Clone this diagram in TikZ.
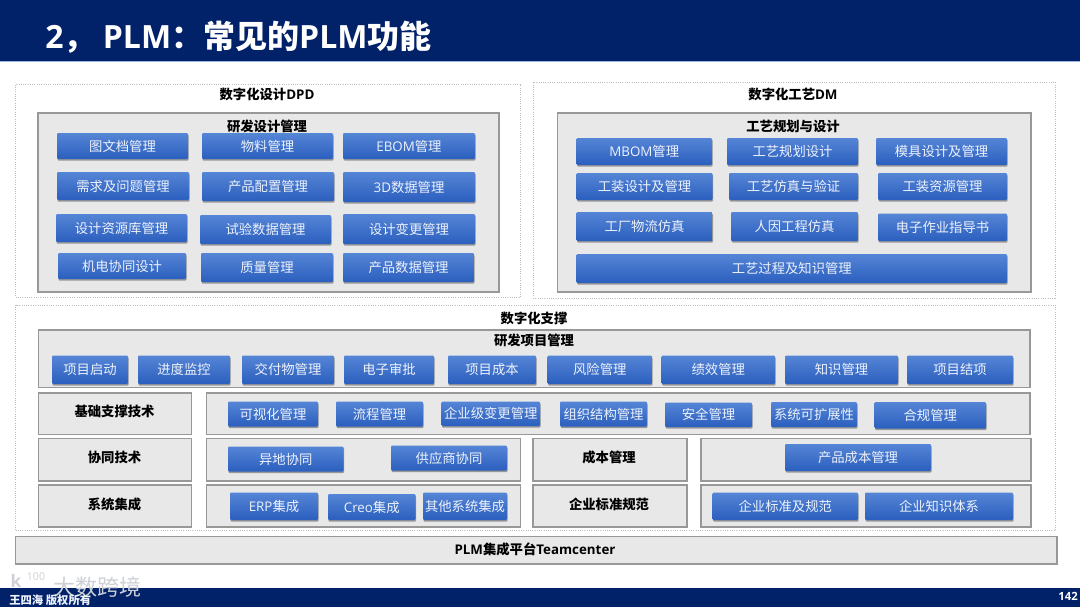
\documentclass[tikz,border=0pt]{standalone}
\usepackage{fontspec}
\setmainfont{Noto Sans CJK SC}
\newfontfamily\lat{Open Sans}
\usetikzlibrary{shadows}
\definecolor{navy}{HTML}{012169}
\definecolor{btop}{HTML}{5585D6}
\definecolor{bbot}{HTML}{2B5FBE}
\definecolor{btxt}{HTML}{EDF2FB}
\definecolor{panel}{HTML}{E8E8E8}
\definecolor{pline}{HTML}{989898}
\definecolor{oline}{HTML}{BDBDBD}
\definecolor{wmark}{HTML}{CDD1D7}
\tikzset{
  btn/.style={rectangle,inner sep=0pt,top color=btop,bottom color=bbot,text=btxt,rounded corners=0.8pt,
    drop shadow={shadow xshift=0.4pt,shadow yshift=-1.2pt,opacity=.35,fill=black},font=\fontsize{10}{12}\selectfont},
  outerbox/.style={rectangle,inner sep=0pt,draw=oline,densely dotted,line width=.7pt,fill=white},
  innerbox/.style={rectangle,inner sep=0pt,draw=pline,line width=1.1pt,fill=panel},
  ttl/.style={inner sep=0pt,text=black,font=\fontsize{10}{12}\selectfont\bfseries},
  sub/.style={inner sep=0pt,text=black,font=\fontsize{10}{12}\selectfont\bfseries},
}
% name, x0, y0, x1, y1, style, text
\newcommand\placebox[7]{%
  \pgfmathsetlengthmacro\bw{(#4-#2)*0.75pt}%
  \pgfmathsetlengthmacro\bh{(#5-#3)*0.75pt}%
  \node[#6,minimum width=\bw,minimum height=\bh] (#1) at ({(#2+#4)/2},{(#3+#5)/2}) {#7};%
}
\begin{document}
\begin{tikzpicture}[x=0.75pt,y=-0.75pt]
\useasboundingbox (0,0) rectangle (1080,607);
\fill[white] (0,0) rectangle (1080,607);
% header and footer
\placebox{header}{0}{0}{1080}{61}{rectangle,inner sep=0pt,fill=navy}{}
\draw[color=btop!60,line width=.6pt] (header.south west) -- (header.south east);
\node[anchor=west,inner sep=0pt,text=white,font=\fontsize{24}{27}\selectfont\bfseries] (title) at (45,37) {{\lat 2}， {\lat PLM}：常见的{\lat PLM}功能};
\placebox{footer}{0}{588}{1080}{607}{rectangle,inner sep=0pt,fill=navy}{}
\node[anchor=east,inner sep=0pt,text=white,font=\fontsize{8.5}{10}\selectfont\bfseries\lat] (page) at (1078,596) {142};
\node[anchor=west,inner sep=0pt,text=wmark,font=\fontsize{16.5}{20}\selectfont] (wm) at (53,587) {大数跨境};
\node[anchor=west,inner sep=0pt,text=btxt,font=\fontsize{8.5}{10}\selectfont\bfseries] (owner) at (9,600) {王四海 版权所有};
\node[inner sep=0pt,text=wmark,font=\fontsize{13}{15}\selectfont\bfseries\lat] (wmk) at (16,581) {k};
\node[inner sep=0pt,text=wmark,font=\fontsize{8}{10}\selectfont\lat] (wma) at (36,577) {100};
% digital design
\placebox{dpd}{15.5}{84}{520.5}{297.5}{outerbox}{}
\node[ttl] (dpdt) at (267,94) {数字化设计{\lat DPD}};
\placebox{rd}{38}{113}{499}{292}{innerbox}{}
\node[sub] (rdt) at (267,126) {研发设计管理};
\placebox{a1}{57}{133}{188}{159}{btn}{图文档管理}
\placebox{a2}{202}{133}{333}{159}{btn}{物料管理}
\placebox{a3}{343}{133}{475}{159}{btn}{{\lat EBOM}管理}
\placebox{a4}{57}{172}{189}{200}{btn}{需求及问题管理}
\placebox{a5}{202}{172}{334}{201}{btn}{产品配置管理}
\placebox{a6}{343}{172}{475}{202}{btn}{{\lat 3D}数据管理}
\placebox{a7}{56}{214}{187}{242}{btn}{设计资源库管理}
\placebox{a8}{200}{215}{331}{244}{btn}{试验数据管理}
\placebox{a9}{343}{214}{475}{244}{btn}{设计变更管理}
\placebox{a10}{58}{253}{186}{279}{btn}{机电协同设计}
\placebox{a11}{201}{253}{333}{282}{btn}{质量管理}
\placebox{a12}{343}{253}{474}{282}{btn}{产品数据管理}
% digital process
\placebox{dm}{533}{82}{1055}{298}{outerbox}{}
\node[ttl] (dmt) at (793,94) {数字化工艺{\lat DM}};
\placebox{pp}{557.5}{113}{1031}{292}{innerbox}{}
\node[sub] (ppt) at (793,126) {工艺规划与设计};
\placebox{c1}{576.5}{138}{712}{165}{btn}{{\lat MBOM}管理}
\placebox{c2}{727}{138}{858}{165}{btn}{工艺规划设计}
\placebox{c3}{876}{138}{1007}{165}{btn}{模具设计及管理}
\placebox{c4}{576.5}{173}{712.5}{200}{btn}{工装设计及管理}
\placebox{c5}{729}{173}{858}{200}{btn}{工艺仿真与验证}
\placebox{c6}{878}{173}{1007}{200}{btn}{工装资源管理}
\placebox{c7}{576.5}{212}{712.5}{241}{btn}{工厂物流仿真}
\placebox{c8}{731}{212}{858}{241}{btn}{人因工程仿真}
\placebox{c9}{878}{213.5}{1007}{241}{btn}{电子作业指导书}
\placebox{c10}{576.5}{254}{1007}{283}{btn}{工艺过程及知识管理}
% digital support
\placebox{sup}{15.5}{305}{1055.5}{530.5}{outerbox}{}
\node[ttl] (supt) at (534,318) {数字化支撑};
\placebox{pm}{38.5}{330}{1030}{387.5}{innerbox}{}
\node[sub] (pmt) at (534,340) {研发项目管理};
\placebox{d1}{52}{355.5}{128}{384}{btn}{项目启动}
\placebox{d2}{138}{355.5}{230}{384}{btn}{进度监控}
\placebox{d3}{242}{355.5}{334}{384}{btn}{交付物管理}
\placebox{d4}{344}{355.5}{434}{384}{btn}{电子审批}
\placebox{d5}{448}{355.5}{536}{384}{btn}{项目成本}
\placebox{d6}{547.5}{355.5}{652}{384}{btn}{风险管理}
\placebox{d7}{661.5}{355.5}{775}{384}{btn}{绩效管理}
\placebox{d8}{785}{355.5}{898}{384}{btn}{知识管理}
\placebox{d9}{907}{355.5}{1013}{384}{btn}{项目结项}
\placebox{l1}{38.5}{393}{191.5}{434.5}{innerbox}{}
\node[sub] (l1t) at (114.5,411.5) {基础支撑技术};
\placebox{l2}{38.5}{438.5}{191.5}{481}{innerbox}{}
\node[sub] (l2t) at (114.5,457) {协同技术};
\placebox{l3}{38.5}{485}{191.5}{527}{innerbox}{}
\node[sub] (l3t) at (114.5,504) {系统集成};
\placebox{r1}{206.5}{393}{1030}{434.5}{innerbox}{}
\placebox{e1}{228}{401.5}{318}{426.5}{btn}{可视化管理}
\placebox{e2}{336}{401.5}{423}{426.5}{btn}{流程管理}
\placebox{e3}{441.5}{401.5}{540}{426}{btn}{企业级变更管理}
\placebox{e4}{560}{401.5}{647}{426.5}{btn}{组织结构管理}
\placebox{e5}{665}{402.5}{752}{427}{btn}{安全管理}
\placebox{e6}{771}{402}{857}{427}{btn}{系统可扩展性}
\placebox{e7}{874.5}{402}{986}{428.5}{btn}{合规管理}
\placebox{r2}{206.5}{438.5}{520.5}{481}{innerbox}{}
\placebox{f1}{228}{446.5}{343.5}{471.5}{btn}{异地协同}
\placebox{f2}{391}{445.5}{507}{470.5}{btn}{供应商协同}
\placebox{r3}{206.5}{485}{520.5}{527}{innerbox}{}
\placebox{g1}{230}{492.5}{318}{520}{btn}{{\lat ERP}集成}
\placebox{g2}{328}{494}{415.5}{520}{btn}{{\lat Creo}集成}
\placebox{g3}{423}{492.5}{507}{520}{btn}{其他系统集成}
\placebox{m2}{533}{438.5}{687}{481}{innerbox}{}
\node[sub] (m2t) at (609,457) {成本管理};
\placebox{m3}{533}{485}{687}{527}{innerbox}{}
\node[sub] (m3t) at (609,504) {企业标准规范};
\placebox{s2}{701}{438.5}{1031}{481}{innerbox}{}
\placebox{h1}{785}{444}{931}{471}{btn}{产品成本管理}
\placebox{s3}{701}{485}{1031}{527}{innerbox}{}
\placebox{i1}{712.5}{492.5}{858}{520}{btn}{企业标准及规范}
\placebox{i2}{865}{492.5}{1013}{520}{btn}{企业知识体系}
% platform
\placebox{plm}{15.5}{536.5}{1057}{564}{innerbox}{}
\node[ttl] (plmt) at (535,549) {{\lat PLM}集成平台{\lat Teamcenter}};
\end{tikzpicture}
\end{document}
